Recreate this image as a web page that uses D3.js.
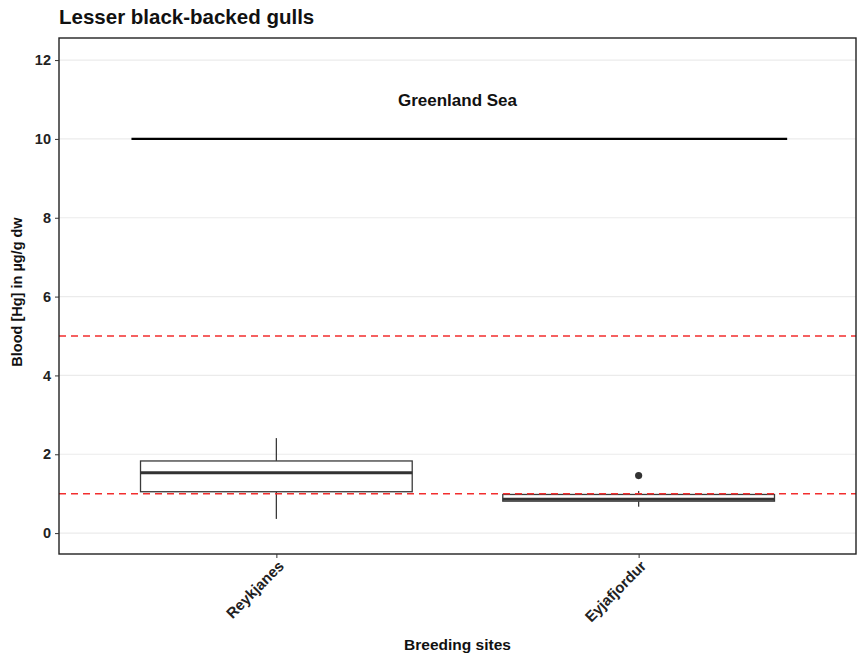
<!DOCTYPE html>
<html><head><meta charset="utf-8">
<script src="https://cdn.jsdelivr.net/npm/d3@7"></script>
<style>body{margin:0;background:#fff;} text{font-family:"Liberation Sans",Arial,sans-serif;}</style>
</head><body>
<svg id="c" width="861" height="657"></svg>
<script>
const categories = ["Reykjanes", "Eyjafjordur"];
const whiskerLow = [0.36, 0.67];
const q1 = [1.05, 0.81];
const median = [1.53, 0.86];
const q3 = [1.83, 0.98];
const whiskerHigh = [2.41, 1.07];
const outliers = [[], [1.46]];
const yTicks = [0, 2, 4, 6, 8, 10, 12];
const refLines = [1, 5];
const seaLine = {label: "Greenland Sea", value: 10, labelValue: 11, xStart: 0.6, xEnd: 2.41};

const svg = d3.select("#c");
const L = 59, R = 856, T = 38, B = 554;
const x = d3.scaleLinear().domain([0.4, 2.6]).range([L, R]);
const y = d3.scaleLinear().domain([-0.53, 12.56]).range([B, T]);

// grid
svg.append("g").selectAll("line").data(yTicks).join("line")
  .attr("x1", L).attr("x2", R).attr("y1", d => y(d)).attr("y2", d => y(d))
  .attr("stroke", "#ebebeb").attr("stroke-width", 1.2);

// boxes
const bw = 0.75;
const g = svg.append("g");
categories.forEach((c, i) => {
  const cx = x(i + 1);
  const hw = (x(1 + bw / 2) - x(1));
  g.append("line").attr("x1", cx).attr("x2", cx).attr("y1", y(q3[i])).attr("y2", y(whiskerHigh[i]))
    .attr("stroke", "#3a3a3a").attr("stroke-width", 1.3);
  g.append("line").attr("x1", cx).attr("x2", cx).attr("y1", y(q1[i])).attr("y2", y(whiskerLow[i]))
    .attr("stroke", "#3a3a3a").attr("stroke-width", 1.3);
  g.append("rect").attr("x", cx - hw).attr("width", 2 * hw)
    .attr("y", y(q3[i])).attr("height", y(q1[i]) - y(q3[i]))
    .attr("fill", "#fff").attr("stroke", "#3a3a3a").attr("stroke-width", 1.3);
  g.append("line").attr("x1", cx - hw).attr("x2", cx + hw).attr("y1", y(median[i])).attr("y2", y(median[i]))
    .attr("stroke", "#333").attr("stroke-width", 3);
  outliers[i].forEach(o => {
    g.append("circle").attr("cx", cx).attr("cy", y(o)).attr("r", 3.6).attr("fill", "#333");
  });
});

// reference lines
svg.append("g").selectAll("line").data(refLines).join("line")
  .attr("x1", L).attr("x2", R).attr("y1", d => y(d)).attr("y2", d => y(d))
  .attr("stroke", "#f22e2e").attr("stroke-width", 1.5).attr("stroke-dasharray", "7,5");

// Greenland sea
svg.append("line").attr("x1", x(seaLine.xStart)).attr("x2", x(seaLine.xEnd))
  .attr("y1", y(seaLine.value)).attr("y2", y(seaLine.value))
  .attr("stroke", "#000").attr("stroke-width", 2.3);
svg.append("text").attr("x", x(1.5)).attr("y", y(seaLine.labelValue)).attr("dy", "0.36em")
  .attr("text-anchor", "middle").attr("font-size", 17).attr("font-weight", "bold").attr("fill", "#111")
  .text(seaLine.label);

// border
svg.append("rect").attr("x", L).attr("y", T).attr("width", R - L).attr("height", B - T)
  .attr("fill", "none").attr("stroke", "#222").attr("stroke-width", 1.4);

// y axis
const ya = svg.append("g").attr("transform", `translate(${L},0)`)
  .call(d3.axisLeft(y).tickValues(yTicks).tickSize(4).tickPadding(4).tickFormat(d3.format("d")));
ya.select(".domain").remove();
ya.selectAll("line").attr("stroke", "#333");
ya.selectAll("text").attr("font-size", 14.5).attr("font-weight", "bold").attr("fill", "#222")
  .attr("font-family", "Liberation Sans, Arial, sans-serif");

// x axis
const xa = svg.append("g").attr("transform", `translate(0,${B})`)
  .call(d3.axisBottom(x).tickValues([1, 2]).tickSize(4).tickFormat(d => categories[d - 1]));
xa.select(".domain").remove();
xa.selectAll("line").attr("stroke", "#333");
xa.selectAll("text").attr("font-size", 15).attr("font-weight", "bold").attr("fill", "#222")
  .attr("font-family", "Liberation Sans, Arial, sans-serif")
  .attr("text-anchor", "end").attr("dy", null).attr("y", 0)
  .attr("transform", "translate(8,13) rotate(-45)");

// titles
svg.append("text").attr("x", L).attr("y", 24).attr("font-size", 20.5).attr("font-weight", "bold").attr("fill", "#111")
  .text("Lesser black-backed gulls");
svg.append("text").attr("x", x(1.5)).attr("y", 650).attr("text-anchor", "middle")
  .attr("font-size", 15.5).attr("font-weight", "bold").attr("fill", "#111").text("Breeding sites");
svg.append("text").attr("transform", `translate(22,${(T + B) / 2 - 4}) rotate(-90)`).attr("text-anchor", "middle")
  .attr("font-size", 14.5).attr("font-weight", "bold").attr("fill", "#111").text("Blood [Hg] in µg/g dw");
</script>
</body></html>
